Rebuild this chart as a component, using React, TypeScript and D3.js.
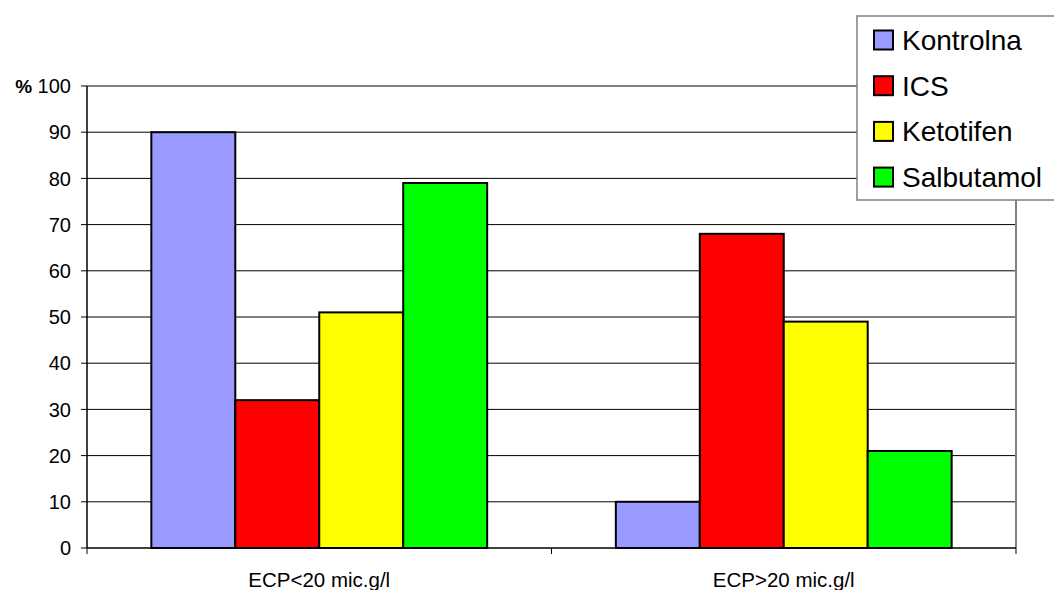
import React from "react";
import * as d3 from "d3";

const categories = ["ECP<20 mic.g/l", "ECP>20 mic.g/l"];
const seriesNames = ["Kontrolna", "ICS", "Ketotifen", "Salbutamol"];
const seriesColors = ["#9999FF", "#FF0000", "#FFFF00", "#00FF00"];
const kontrolna = [90, 10];
const ics = [32, 68];
const ketotifen = [51, 49];
const salbutamol = [79, 21];
const yTicks = [0, 10, 20, 30, 40, 50, 60, 70, 80, 90, 100];

const seriesValues = [kontrolna, ics, ketotifen, salbutamol];

export default function App() {
  const W = 1054, H = 590;
  const left = 87, right = 1016, top = 86, bottom = 548;
  const x0 = d3.scaleBand().domain(categories).range([left, right]).paddingInner(0.277).paddingOuter(0.1385);
  const x1 = d3.scaleBand().domain(seriesNames).range([0, x0.bandwidth()]);
  const y = d3.scaleLinear().domain([0, 100]).range([bottom, top]);
  const font = "Arial, 'Liberation Sans', sans-serif";
  const catEdges = [left, (left + right) / 2, right];

  return (
    <svg width={W} height={H} style={{ position: "absolute", left: 0, top: 0 }} fontFamily={font}>
      <rect x={0} y={0} width={W} height={H} fill="#fff" />
      {yTicks.map((t) => (
        <g key={t}>
          {t > 0 && t < 100 && <line x1={left} x2={right} y1={y(t)} y2={y(t)} stroke="#000" strokeWidth={1} />}
          <line x1={left - 6} x2={left} y1={y(t)} y2={y(t)} stroke="#000" strokeWidth={1} />
          <text x={71} y={y(t)} dy="0.36em" textAnchor="end" fontSize={20}>
            {t === 100 ? (<><tspan fontWeight="bold" fontSize={19}>%</tspan> 100</>) : t}
          </text>
        </g>
      ))}
      <line x1={left} x2={right} y1={top} y2={top} stroke="#808080" strokeWidth={2} />
      <line x1={right} x2={right} y1={top} y2={bottom} stroke="#808080" strokeWidth={2} />
      {categories.map((c, ci) =>
        seriesNames.map((s, si) => {
          const v = seriesValues[si][ci];
          const bx = (x0(c) as number) + (x1(s) as number);
          return (
            <rect key={c + s} x={bx} y={y(v)} width={x1.bandwidth()} height={y(0) - y(v)}
              fill={seriesColors[si]} stroke="#000" strokeWidth={2} />
          );
        })
      )}
      <line x1={left} x2={left} y1={top} y2={bottom} stroke="#000" strokeWidth={1.5} />
      <line x1={left} x2={right} y1={bottom} y2={bottom} stroke="#000" strokeWidth={1.5} />
      {catEdges.map((e, i) => (
        <line key={i} x1={e} x2={e} y1={bottom} y2={bottom + 6} stroke="#000" strokeWidth={1} />
      ))}
      {categories.map((c) => (
        <text key={c} x={(x0(c) as number) + x0.bandwidth() / 2} y={587} textAnchor="middle" fontSize={20.5}>{c}</text>
      ))}
      <rect x={857} y={16} width={210} height={184} fill="#fff" stroke="#808080" strokeWidth={1.5} />
      {seriesNames.map((s, i) => {
        const cy = 40 + i * 45.7;
        return (
          <g key={s}>
            <rect x={874} y={cy - 9.5} width={19} height={19} fill={seriesColors[i]} stroke="#000" strokeWidth={2} />
            <text x={902} y={cy} dy="0.36em" fontSize={28}>{s}</text>
          </g>
        );
      })}
    </svg>
  );
}
